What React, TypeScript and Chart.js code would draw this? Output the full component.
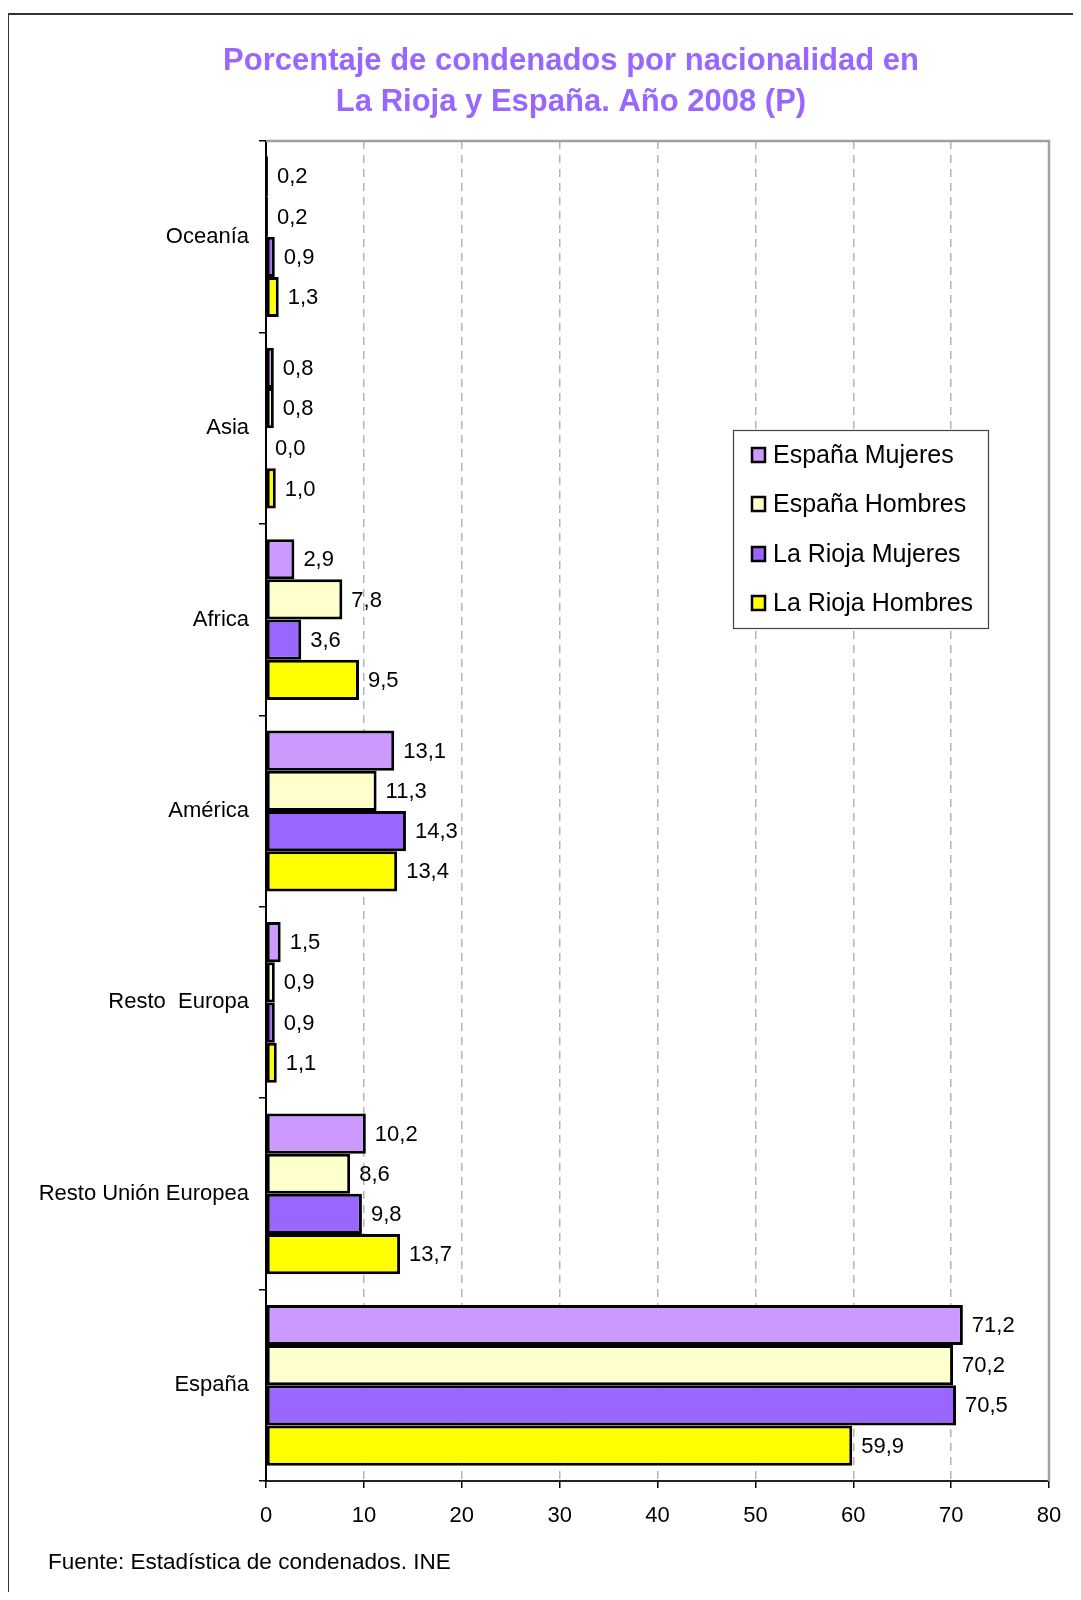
import React, { useEffect, useRef } from 'react';
import { Chart, registerables } from 'chart.js';

Chart.register(...registerables);

const FONT = "'Liberation Sans', Arial, Helvetica, sans-serif";

const categories = ['Oceanía', 'Asia', 'Africa', 'América', 'Resto  Europa', 'Resto Unión Europea', 'España'];
const espanaMujeres = [0.2, 0.8, 2.9, 13.1, 1.5, 10.2, 71.2];
const espanaHombres = [0.2, 0.8, 7.8, 11.3, 0.9, 8.6, 70.2];
const riojaMujeres = [0.9, 0.0, 3.6, 14.3, 0.9, 9.8, 70.5];
const riojaHombres = [1.3, 1.0, 9.5, 13.4, 1.1, 13.7, 59.9];
const seriesLabels = ['España Mujeres', 'España Hombres', 'La Rioja Mujeres', 'La Rioja Hombres'];
const seriesColors = ['#CC99FF', '#FFFFCC', '#9966FF', '#FFFF00'];
const xMin = 0;
const xMax = 80;
const xStep = 10;
const titleLines = ['Porcentaje de condenados por nacionalidad en', 'La Rioja y España. Año 2008 (P)'];
const sourceText = 'Fuente: Estadística de condenados. INE';

const W = 1065;
const H = 1584;

const fmt = (v: number) => v.toFixed(1).replace('.', ',');

const decorPlugin = {
  id: 'decor',
  beforeDatasetsDraw(chart: any) {
    const { ctx, chartArea } = chart;
    ctx.save();
    ctx.strokeStyle = '#A0A0A0';
    ctx.lineWidth = 2.5;
    ctx.beginPath();
    ctx.moveTo(chartArea.left, chartArea.top);
    ctx.lineTo(chartArea.right, chartArea.top);
    ctx.lineTo(chartArea.right, chartArea.bottom);
    ctx.stroke();
    ctx.restore();
  },
  afterDatasetsDraw(chart: any) {
    const { ctx } = chart;
    ctx.save();
    ctx.font = `22px ${FONT}`;
    ctx.fillStyle = '#000';
    ctx.textAlign = 'left';
    ctx.textBaseline = 'middle';
    chart.data.datasets.forEach((ds: any, i: number) => {
      const meta = chart.getDatasetMeta(i);
      meta.data.forEach((bar: any, j: number) => {
        ctx.fillText(fmt(ds.data[j]), bar.x + 9, bar.y + 1);
      });
    });
    ctx.restore();
  },
  afterDraw(chart: any) {
    const { ctx } = chart;
    ctx.save();
    // title
    ctx.font = `bold 31px ${FONT}`;
    ctx.fillStyle = '#9966FF';
    ctx.textAlign = 'center';
    ctx.textBaseline = 'middle';
    ctx.fillText(titleLines[0], 563, 53);
    ctx.fillText(titleLines[1], 563, 94);

    // legend
    const bx = 725, by = 422, bw = 255, bh = 198;
    ctx.fillStyle = '#FFFFFF';
    ctx.fillRect(bx, by, bw, bh);
    ctx.strokeStyle = '#444';
    ctx.lineWidth = 1.2;
    ctx.strokeRect(bx + 0.5, by + 0.5, bw, bh);
    const ys = [447, 496, 546, 595];
    chart.data.datasets.forEach((ds: any, i: number) => {
      const y = ys[i];
      ctx.fillStyle = ds.backgroundColor;
      ctx.fillRect(744, y - 7, 13, 14);
      ctx.strokeStyle = '#000';
      ctx.lineWidth = 2.5;
      ctx.strokeRect(744, y - 7, 13, 14);
      ctx.fillStyle = '#000';
      ctx.font = `25px ${FONT}`;
      ctx.textAlign = 'left';
      ctx.textBaseline = 'middle';
      ctx.fillText(ds.label, 765, y + 1);
    });

    // source
    ctx.font = `22.5px ${FONT}`;
    ctx.fillStyle = '#000';
    ctx.textAlign = 'left';
    ctx.textBaseline = 'middle';
    ctx.fillText(sourceText, 40, 1555);
    ctx.restore();
  },
};

export default function App() {
  const ref = useRef<HTMLCanvasElement | null>(null);

  useEffect(() => {
    if (!ref.current) return;
    const series = [espanaMujeres, espanaHombres, riojaMujeres, riojaHombres];
    const chart = new Chart(ref.current, {
      type: 'bar',
      data: {
        labels: categories,
        datasets: series.map((d, i) => ({
          label: seriesLabels[i],
          data: d,
          backgroundColor: seriesColors[i],
          borderColor: '#000000',
          borderWidth: 3,
          borderSkipped: false,
          categoryPercentage: 0.84,
          barPercentage: 1.0,
        })),
      },
      options: {
        indexAxis: 'y',
        animation: false,
        responsive: true,
        maintainAspectRatio: false,
        layout: { padding: { top: 133, right: 24, left: 0, bottom: 0 } },
        plugins: {
          legend: { display: false },
          title: { display: false },
          tooltip: { enabled: false },
        },
        scales: {
          x: {
            type: 'linear',
            min: xMin,
            max: xMax,
            ticks: {
              stepSize: xStep,
              color: '#000',
              font: { family: FONT, size: 22 },
              padding: 15,
            },
            grid: {
              color: (c: any) =>
                c.tick && (c.tick.value === xMin || c.tick.value === xMax) ? 'rgba(0,0,0,0)' : '#B4B4B4',
              lineWidth: 1.5,
              tickColor: '#000',
              tickWidth: 1.5,
              tickLength: 7,
              tickBorderDash: [],
              drawOnChartArea: true,
            },
            border: { display: true, color: '#222', width: 2, dash: [8, 6] },
            afterFit: (s: any) => {
              s.height = 111;
              s.paddingRight = 0;
              s.paddingLeft = 0;
            },
          },
          y: {
            type: 'category',
            offset: true,
            ticks: {
              color: '#000',
              font: { family: FONT, size: 22 },
              padding: 10,
            },
            grid: {
              offset: true,
              drawOnChartArea: false,
              color: '#000',
              tickColor: '#000',
              tickLength: 7,
              lineWidth: 1.5,
            },
            border: { display: true, color: '#000', width: 2 },
            afterFit: (s: any) => {
              s.width = 258;
            },
          },
        },
      },
      plugins: [decorPlugin],
    });
    return () => chart.destroy();
  }, []);

  return (
    <div style={{ position: 'relative', width: W, height: H, overflow: 'hidden', background: '#fff' }}>
      <div
        style={{
          position: 'absolute',
          left: -1,
          top: 5,
          width: 3000,
          height: 3000,
          borderLeft: '2px solid #333',
          borderTop: '2px solid #333',
        }}
      />
      <canvas ref={ref} style={{ position: 'absolute', left: 0, top: 0 }} />
    </div>
  );
}
